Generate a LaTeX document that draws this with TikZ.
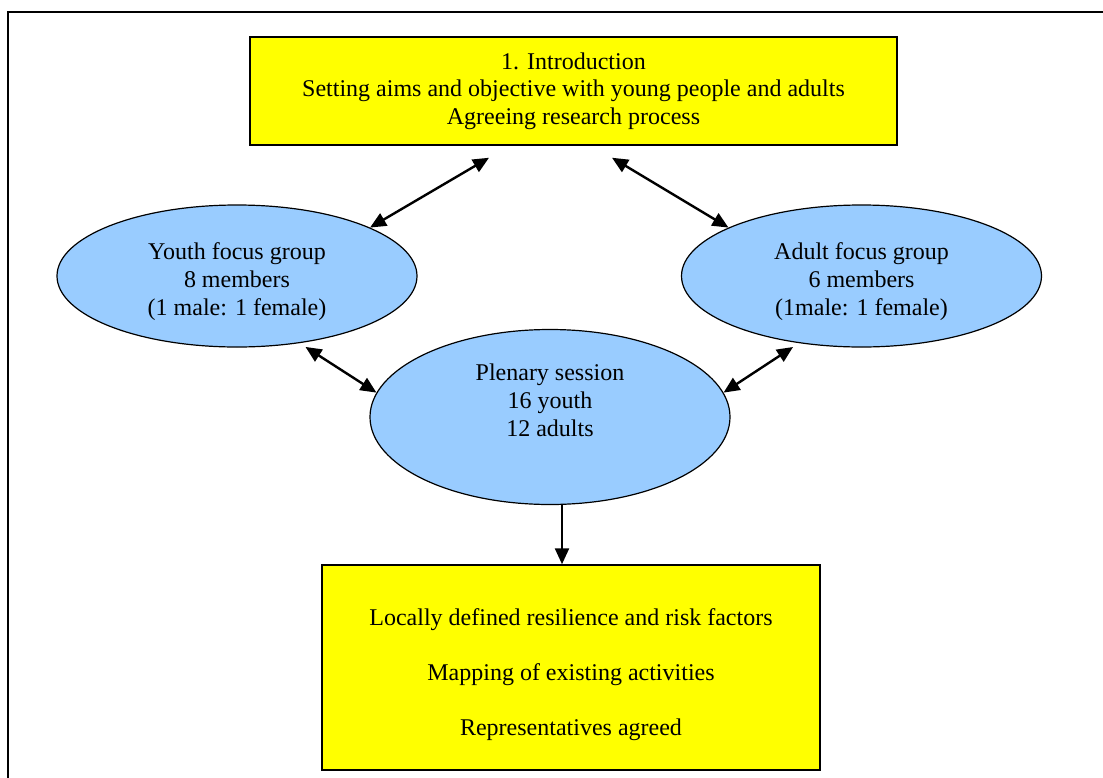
\documentclass[tikz,border=0pt]{standalone}
\usepackage{fontspec}
\setmainfont{Liberation Serif}
\usepackage{xcolor}
\usetikzlibrary{positioning,shapes,arrows.meta}
\definecolor{groupblue}{RGB}{153,204,255}
\definecolor{boxyellow}{RGB}{255,255,0}

\begin{document}
\begin{tikzpicture}[x=0.5pt,y=-0.5pt,
    every node/.style={font=\fontsize{12}{13.8}\selectfont, align=center},
    yellowbox/.style={draw, line width=0.75pt, fill=boxyellow, inner sep=0pt},
    group/.style={ellipse, draw, line width=0.6pt, fill=groupblue,
      minimum width=180pt, minimum height=71pt, inner sep=0pt},
    twoway/.style={{Triangle[length=8pt,width=7pt]}-{Triangle[length=8pt,width=7pt]}, line width=1.2pt},
    oneway/.style={-{Triangle[length=8pt,width=7pt]}, line width=1.2pt}]
      \clip (0,0) rectangle (1103,777);
      \draw[line width=0.75pt] (8,12) rectangle (1120,790);% page frame
      \node[yellowbox, minimum width=323.5pt, minimum height=54pt] (intro) at (573.5,91)
        {1. Introduction\\Setting aims and objective with young people and adults\\Agreeing research process};
      \node[group] (youth) at (237,276) {\rule{0pt}{14pt}Youth focus group\\8 members\\(1 male: 1 female)};
      \node[group] (adult) at (861.5,276) {\rule{0pt}{14pt}Adult focus group\\6 members\\(1male: 1 female)};
      \node[group, minimum height=87.5pt] (plenary) at (550,417) {Plenary session\\16 youth\\12 adults\\[3pt]\mbox{}};
      \node[yellowbox, minimum width=249pt, minimum height=102.5pt] (factors) at (571,667.5)
        {\rule{0pt}{15.5pt}Locally defined resilience and risk factors\\[13.8pt]Mapping of existing activities\\[13.8pt]Representatives agreed};
      \coordinate (introL) at ([xshift=-42.25pt,yshift=-6pt]intro.south);
      \coordinate (introR) at ([xshift=19.25pt,yshift=-6pt]intro.south);
      \draw[twoway] (introL) -- (youth.20);
      \draw[twoway] (introR) -- (adult.160);
      \draw[twoway, shorten <=3.5pt] (youth.-47) -- (plenary.172);
      \draw[twoway, shorten <=3.5pt] (adult.-133) -- (plenary.8);
      \draw[oneway] ([xshift=6pt]plenary.south) -- ([xshift=6pt]plenary.south |- factors.north);
\end{tikzpicture}
\end{document}
